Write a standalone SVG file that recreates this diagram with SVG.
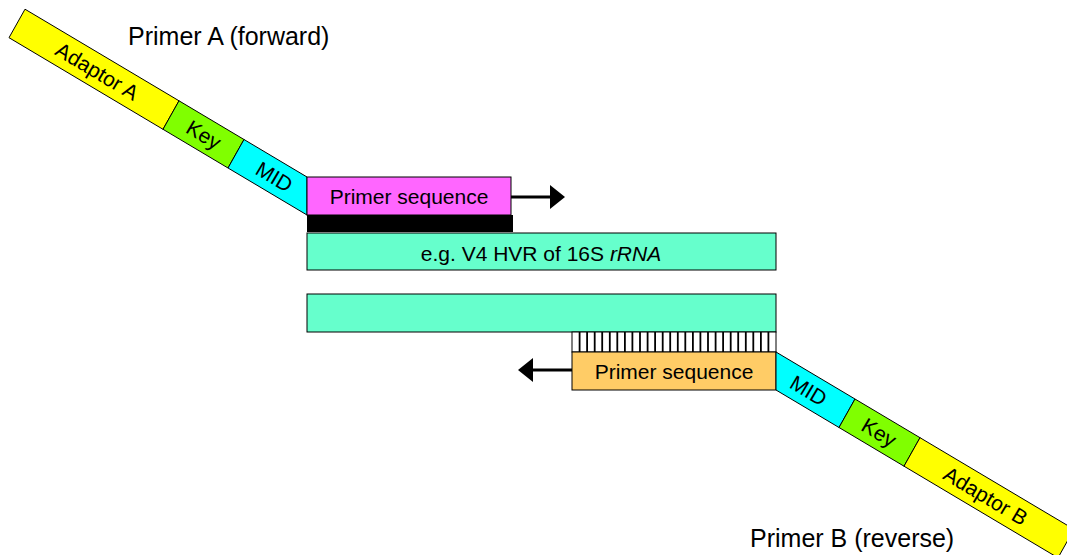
<svg xmlns="http://www.w3.org/2000/svg" width="1067" height="555" viewBox="0 0 1067 555">
  <style>
    .box { stroke: #000; stroke-width: 1; }
    .t { font-family: "Liberation Sans", Arial, sans-serif; fill: #000; }
    .lbl { font-size: 21px; text-anchor: middle; }
    .seg { font-size: 21px; text-anchor: middle; }
    .title { font-size: 25px; }
    .arrow { stroke: #000; stroke-width: 3; fill: none; }
    .hatch { stroke: #000; stroke-width: 1.8; }
  </style>
  <defs>
    <polygon id="headR" points="-15,-12 0,0 -15,12" fill="#000"/>
  </defs>
  <rect width="1067" height="555" fill="#fff"/>

  <g id="primerA-title"><text class="t title" x="128" y="45">Primer A (forward)</text></g>
  <g id="primerB-title"><text class="t title" x="750" y="547">Primer B (reverse)</text></g>

  <g id="adaptorA">
    <polygon class="box" fill="#FFFF00" points="25,9.2 179,100.8 163,129.3 9,37.7"/>
    <text class="t seg" transform="translate(97.3,71.2) rotate(30.75)" y="7.5">Adaptor A</text>
  </g>
  <g id="keyA">
    <polygon class="box" fill="#80FF00" points="179,100.8 244,139.5 228,168 163,129.3"/>
    <text class="t seg" transform="translate(203.9,134.6) rotate(30.75)" y="7.5">Key</text>
  </g>
  <g id="midA">
    <polygon class="box" fill="#00FFFF" points="244,139.5 307,177 307,215 228,168"/>
    <text class="t seg" transform="translate(274.3,176.6) rotate(30.75)" y="7.5">MID</text>
  </g>

  <g id="primerA-seq">
    <rect x="307" y="215" width="206" height="17" fill="#000"/>
    <rect class="box" x="307" y="177" width="204" height="38" fill="#FF66FF"/>
    <text class="t lbl" x="409" y="204">Primer sequence</text>
  </g>

  <g id="template-top">
    <rect class="box" x="307" y="233" width="469" height="37" fill="#66FFCC"/>
    <text class="t lbl" x="541" y="261">e.g. V4 HVR of 16S <tspan font-style="italic">rRNA</tspan></text>
  </g>

  <g id="template-bottom">
    <rect class="box" x="307" y="294" width="469" height="38" fill="#66FFCC"/>
  </g>

  <g id="hatch">
    <rect class="box" x="572" y="332" width="204" height="20" fill="#fff"/>
    <g class="hatch">
      <line x1="579.6" y1="332" x2="579.6" y2="352"/>
      <line x1="587.1" y1="332" x2="587.1" y2="352"/>
      <line x1="594.7" y1="332" x2="594.7" y2="352"/>
      <line x1="602.2" y1="332" x2="602.2" y2="352"/>
      <line x1="609.8" y1="332" x2="609.8" y2="352"/>
      <line x1="617.3" y1="332" x2="617.3" y2="352"/>
      <line x1="624.9" y1="332" x2="624.9" y2="352"/>
      <line x1="632.4" y1="332" x2="632.4" y2="352"/>
      <line x1="640.0" y1="332" x2="640.0" y2="352"/>
      <line x1="647.6" y1="332" x2="647.6" y2="352"/>
      <line x1="655.1" y1="332" x2="655.1" y2="352"/>
      <line x1="662.7" y1="332" x2="662.7" y2="352"/>
      <line x1="670.2" y1="332" x2="670.2" y2="352"/>
      <line x1="677.8" y1="332" x2="677.8" y2="352"/>
      <line x1="685.3" y1="332" x2="685.3" y2="352"/>
      <line x1="692.9" y1="332" x2="692.9" y2="352"/>
      <line x1="700.4" y1="332" x2="700.4" y2="352"/>
      <line x1="708.0" y1="332" x2="708.0" y2="352"/>
      <line x1="715.6" y1="332" x2="715.6" y2="352"/>
      <line x1="723.1" y1="332" x2="723.1" y2="352"/>
      <line x1="730.7" y1="332" x2="730.7" y2="352"/>
      <line x1="738.2" y1="332" x2="738.2" y2="352"/>
      <line x1="745.8" y1="332" x2="745.8" y2="352"/>
      <line x1="753.3" y1="332" x2="753.3" y2="352"/>
      <line x1="760.9" y1="332" x2="760.9" y2="352"/>
      <line x1="768.4" y1="332" x2="768.4" y2="352"/>
    </g>
  </g>

  <g id="primerB-seq">
    <rect class="box" x="572" y="352" width="204" height="38" fill="#FFCC66"/>
    <text class="t lbl" x="674" y="379">Primer sequence</text>
  </g>

  <g id="midB">
    <polygon class="box" fill="#00FFFF" points="839,427.5 776,390 776,352 855,399"/>
    <text class="t seg" transform="translate(808.7,390.4) rotate(30.75)" y="7.5">MID</text>
  </g>
  <g id="keyB">
    <polygon class="box" fill="#80FF00" points="904,466.2 839,427.5 855,399 920,437.7"/>
    <text class="t seg" transform="translate(879.1,432.4) rotate(30.75)" y="7.5">Key</text>
  </g>
  <g id="adaptorB">
    <polygon class="box" fill="#FFFF00" points="1058,557.8 904,466.2 920,437.7 1074,529.3"/>
    <text class="t seg" transform="translate(985.7,495.8) rotate(30.75)" y="7.5">Adaptor B</text>
  </g>

  <g id="connectors">
    <line class="arrow" x1="511" y1="197" x2="552" y2="197"/>
    <use href="#headR" transform="translate(565,197)"/>
    <line class="arrow" x1="572" y1="370" x2="531" y2="370"/>
    <use href="#headR" transform="translate(518,370) rotate(180)"/>
  </g>
</svg>
